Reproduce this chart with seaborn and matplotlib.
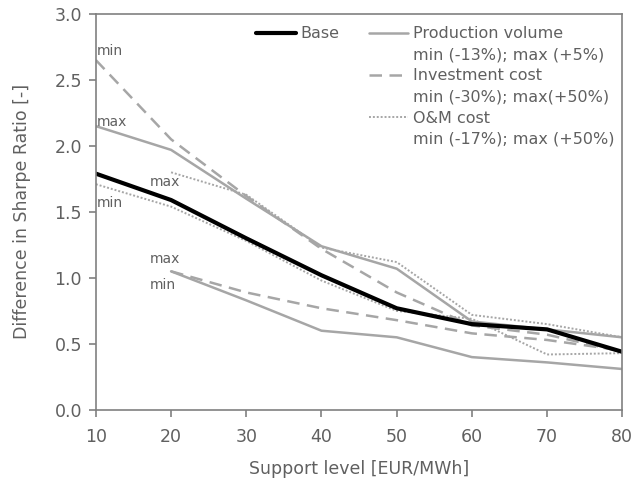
import matplotlib
matplotlib.use("Agg")
import matplotlib.pyplot as plt
from matplotlib.lines import Line2D
import seaborn as sns
import pandas as pd

support = [10, 20, 30, 40, 50, 60, 70, 80]
support_from20 = [20, 30, 40, 50, 60, 70, 80]

base = [1.79, 1.59, 1.30, 1.02, 0.77, 0.65, 0.61, 0.44]
prod_max = [2.15, 1.97, 1.60, 1.24, 1.07, 0.67, 0.61, 0.55]
prod_min = [1.05, 0.83, 0.60, 0.55, 0.40, 0.36, 0.31]
inv_min = [2.65, 2.05, 1.62, 1.22, 0.89, 0.64, 0.57, 0.44]
inv_max = [1.05, 0.89, 0.77, 0.68, 0.58, 0.53, 0.45]
om_max = [1.80, 1.63, 1.23, 1.12, 0.72, 0.65, 0.55]
om_min = [1.71, 1.54, 1.28, 0.98, 0.75, 0.69, 0.42, 0.43]

legend_labels = ["Base", "Production volume", "min (-13%); max (+5%)",
                 "Investment cost", "min (-30%); max(+50%)",
                 "O&M cost", "min (-17%); max (+50%)"]

sns.set_style("white")
plt.rcParams['font.family'] = ['DejaVu Sans']
plt.rcParams['xtick.bottom'] = True
plt.rcParams['ytick.left'] = True

txt = "#606060"
gray = "#a6a6a6"

fig = plt.figure(figsize=(6.35, 4.8), dpi=100)
ax = fig.add_axes([0.151, 0.146, 0.829, 0.825])

def draw(x, y, color, lw, ls, dashes=None):
    d = pd.DataFrame({"x": x, "y": y})
    line = sns.lineplot(data=d, x="x", y="y", ax=ax, color=color, lw=lw,
                        linestyle=ls, legend=False).lines[-1]
    if dashes is not None:
        line.set_dashes(dashes)
    return line

draw(support, prod_max, gray, 1.8, "-")
draw(support_from20, prod_min, gray, 1.8, "-")
draw(support, inv_min, gray, 1.8, "--", (5, 3))
draw(support_from20, inv_max, gray, 1.8, "--", (5, 3))
draw(support_from20, om_max, gray, 1.4, ":", (1, 1))
draw(support, om_min, gray, 1.4, ":", (1, 1))
draw(support, base, "black", 3.0, "-")

ann = [("min", 10.1, 2.72), ("max", 10.1, 2.18), ("max", 17.2, 1.73),
       ("min", 10.1, 1.57), ("max", 17.2, 1.14), ("min", 17.2, 0.95)]
for t, x, y in ann:
    ax.text(x, y, t, fontsize=10, color=txt, va="center", ha="left")

ax.set_xlim(10, 80)
ax.set_ylim(0, 3.0)
ax.set_xticks(support)
ax.set_yticks([0.0, 0.5, 1.0, 1.5, 2.0, 2.5, 3.0])
ax.set_yticklabels(["0.0", "0.5", "1.0", "1.5", "2.0", "2.5", "3.0"])
ax.tick_params(axis="both", labelcolor=txt, color="#808080", labelsize=12.5,
               direction="out", length=5, width=1.2, bottom=True, left=True)
ax.tick_params(axis="x", pad=8)
ax.tick_params(axis="y", pad=5)
for s in ax.spines.values():
    s.set_color("#808080")
    s.set_linewidth(1.2)
ax.set_xlabel("Support level [EUR/MWh]", fontsize=12.5, color=txt, labelpad=10)
ax.set_ylabel("Difference in Sharpe Ratio [-]", fontsize=12.5, color=txt, labelpad=17)

blank = Line2D([], [], color="none")
h_base = Line2D([], [], color="black", lw=3)
h_pv = Line2D([], [], color=gray, lw=1.8)
h_ic = Line2D([], [], color=gray, lw=1.8, dashes=(5, 3))
h_om = Line2D([], [], color=gray, lw=1.4, dashes=(1, 1))
handles = [h_base, blank, blank, blank, blank, blank,
           h_pv, blank, h_ic, blank, h_om, blank]
labels = [legend_labels[0], "", "", "", "", "",
          legend_labels[1], legend_labels[2], legend_labels[3],
          legend_labels[4], legend_labels[5], legend_labels[6]]
leg = ax.legend(handles, labels, ncol=2, frameon=False, fontsize=11.5,
                loc="upper right", bbox_to_anchor=(1.013, 1.005),
                labelspacing=0.38, handlelength=2.5, handletextpad=0.3,
                columnspacing=1.8, labelcolor=txt)

fig.savefig("out.png", dpi=100)
